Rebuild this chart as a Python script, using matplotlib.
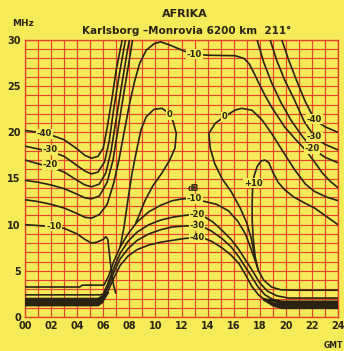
import matplotlib
matplotlib.use("Agg")
import matplotlib.pyplot as plt

BG = "#f5eb58"
RED = "#e4432c"
INK = "#2a2314"

title = "AFRIKA"
subtitle = "Karlsborg \u2013Monrovia 6200 km  211\u00b0"
xticks = list(range(0, 25, 2))
xticklabels = ["00", "02", "04", "06", "08", "10", "12", "14", "16", "18", "20", "22", "24"]
yticks = [0, 5, 10, 15, 20, 25, 30]

# ---- night curves above the MUF (left) ----
n40_h = [0, 1, 2, 3, 4, 4.6, 5.1, 5.6, 6.0, 6.3, 6.65, 7.0, 7.45]
n40_f = [20.2, 20.0, 19.7, 19.2, 18.2, 17.5, 17.2, 17.4, 18.3, 20.5, 23.5, 26.8, 30]
n30_h = [0, 1, 2, 3, 4, 4.6, 5.1, 5.6, 6.1, 6.45, 6.8, 7.2, 7.7]
n30_f = [18.5, 18.2, 17.9, 17.4, 16.4, 15.8, 15.5, 15.7, 16.8, 19.0, 22.5, 26.0, 30]
n20_h = [0, 1, 2, 3, 4, 4.6, 5.1, 5.7, 6.2, 6.6, 7.0, 7.4, 7.75, 8.0]
n20_f = [17.0, 16.6, 16.2, 15.7, 14.8, 14.3, 14.1, 14.4, 15.6, 18.0, 21.5, 25.0, 28.0, 30]
n4_h = [0, 1, 2, 3, 4, 4.6, 5.1, 5.7, 6.3, 6.75, 7.15, 7.55, 7.9, 8.25]
n4_f = [14.8, 14.6, 14.3, 13.9, 13.3, 12.9, 12.8, 13.1, 14.6, 17.0, 20.5, 24.0, 27.0, 30]
# -10 contour: night, sunrise, upper arc, evening descent
m10_h = [0, 1, 2, 3, 4, 4.6, 5.1, 5.7, 6.3, 6.8, 7.2, 7.6, 8.0, 8.4, 8.8, 9.3, 9.9, 10.4,
         11.2, 12.2, 13.0, 14.0, 16.1, 16.8, 17.2, 17.6, 17.9, 18.4, 18.9, 19.9, 20.7,
         21.5, 22.2, 22.8, 23.4, 24]
m10_f = [12.7, 12.5, 12.2, 11.8, 11.2, 10.8, 10.7, 11.1, 12.2, 14.5, 17.0, 20.0, 23.0, 25.5,
         27.5, 28.9, 29.6, 29.8, 29.4, 28.8, 28.45, 28.35, 28.3, 28.0, 27.4, 26.3, 25.4, 24.0,
         22.75, 20.6, 19.3, 18.1, 16.8, 15.6, 14.7, 14.0]
# night curve dropping into the LUF bundle
n6_h = [0, 1, 2, 3, 4, 4.6, 5.1, 5.5, 6.0, 6.2, 6.35, 6.5, 6.65, 6.8, 6.95]
n6_f = [10.0, 9.9, 9.8, 9.6, 9.0, 8.4, 8.0, 8.1, 8.4, 8.7, 8.4, 6.5, 4.6, 3.4, 2.6]

# ---- evening curves above the MUF (right) ----
r20_h = [17.8, 18.3, 18.9, 19.6, 20.4, 21.3, 22.0, 23.0, 24]
r20_f = [30, 27.6, 25.4, 23.3, 21.3, 19.5, 18.3, 17.3, 16.7]
r30_h = [18.8, 19.3, 19.9, 20.6, 21.4, 22.2, 23.0, 24]
r30_f = [30, 27.8, 25.7, 23.7, 21.2, 19.5, 18.7, 18.1]
r40_h = [19.7, 20.2, 20.8, 21.5, 22.2, 23.0, 24]
r40_f = [30, 27.9, 25.7, 23.3, 21.4, 20.6, 20.0]

# ---- 0 dB loops ----
z0l_h = [7.3, 7.6, 7.9, 8.2, 8.55, 8.9, 9.3, 9.9, 10.5, 11.0, 11.35, 11.6, 11.5, 11.1,
         10.5, 9.8, 9.2, 8.8, 8.5]
z0l_f = [7.6, 9.8, 12.8, 15.5, 18.0, 20.3, 21.7, 22.5, 22.6, 22.1, 21.2, 19.9, 18.3, 17.0,
         15.6, 14.2, 12.6, 11.2, 10.2]
z0r_h = [17.65, 17.55, 17.35, 17.0, 16.5, 15.8, 15.1, 14.55, 14.2, 14.1, 14.6, 15.3, 16.1,
         16.6, 17.4, 18.2, 18.9, 19.7, 20.7, 21.5, 22.2, 23.1, 24]
z0r_f = [6.3, 7.0, 8.5, 10.2, 11.8, 13.6, 15.0, 16.6, 18.3, 19.9, 21.0, 21.7, 22.4, 22.6,
         22.4, 21.3, 19.9, 18.1, 15.9, 14.4, 13.6, 13.0, 12.6]
# ---- +10 dB curve (right) ----
p10_h = [17.9, 17.65, 17.5, 17.42, 17.42, 17.45, 17.55, 17.8, 18.1, 18.4, 18.7, 19.0, 19.4,
         19.9, 20.6, 21.5, 22.2, 22.8, 23.4, 24]
p10_f = [5.0, 6.5, 8.5, 10.5, 12.5, 13.8, 15.2, 16.3, 16.9, 17.0, 16.7, 15.7, 14.6, 13.8,
         13.0, 12.3, 11.8, 11.2, 10.6, 10.0]

# ---- daytime curves below the MUF (absorption, LUF bundle) ----
d10_h = [0, 4.2, 4.4, 6.05, 6.4, 6.8, 7.3, 7.9, 8.6, 9.5, 10.4, 11.3, 12.1, 13.0, 13.8,
         14.7, 15.6, 16.3, 16.9, 17.3, 17.6, 17.9, 18.3, 18.9, 19.6, 20.5, 24]
d10_f = [3.25, 3.25, 3.45, 3.45, 4.4, 6.0, 7.6, 9.0, 10.3, 11.4, 12.1, 12.6, 12.8, 12.8, 12.5,
         12.2, 11.5, 10.4, 9.0, 7.5, 6.3, 5.0, 4.0, 3.25, 2.95, 2.9, 2.9]
d20_h = [0, 5.8, 6.0, 6.35, 6.8, 7.3, 7.9, 8.6, 9.5, 10.4, 11.3, 12.2, 13.0, 13.7, 14.4,
         15.1, 15.8, 16.4, 16.9, 17.4, 18.0, 18.6, 19.3, 20.2, 24]
d20_f = [2.4, 2.4, 2.5, 3.6, 5.3, 6.9, 8.2, 9.2, 10.0, 10.5, 10.8, 11.0, 11.1, 10.9, 10.3,
         9.4, 8.4, 7.3, 6.2, 5.1, 3.7, 2.8, 2.3, 2.05, 2.05]
d30_h = [0, 5.7, 5.95, 6.35, 6.8, 7.3, 7.9, 8.6, 9.5, 10.4, 11.3, 12.2, 13.0, 13.6, 14.3,
         15.1, 15.8, 16.4, 16.9, 17.4, 17.9, 18.4, 19.0, 19.7, 24]
d30_f = [2.0, 2.0, 2.1, 3.2, 4.8, 6.3, 7.4, 8.3, 9.0, 9.45, 9.75, 9.85, 9.9, 9.8, 9.3,
         8.5, 7.6, 6.5, 5.4, 4.3, 3.2, 2.4, 1.9, 1.7, 1.7]
d40_h = [0, 5.6, 5.9, 6.3, 6.8, 7.3, 7.9, 8.6, 9.5, 10.4, 11.3, 12.2, 13.0, 13.6, 14.3,
         15.1, 15.8, 16.4, 16.9, 17.4, 17.9, 18.4, 19.0, 19.7, 24]
d40_f = [1.6, 1.6, 1.7, 2.6, 4.2, 5.6, 6.6, 7.3, 7.8, 8.1, 8.3, 8.5, 8.6, 8.6, 8.2,
         7.5, 6.7, 5.8, 4.6, 3.3, 2.4, 1.85, 1.5, 1.35, 1.35]
# extra lines forming the thick night-time bundle
bl_levels = [1.3, 1.45, 1.75, 1.9]
br_levels = [1.0, 1.15, 1.5]

fig = plt.figure(figsize=(3.44, 3.51), dpi=100, facecolor=BG)
ax = fig.add_axes([25 / 344, 1 - 317 / 351, 313 / 344, 277 / 351])
ax.set_facecolor(BG)
ax.set_xlim(0, 24)
ax.set_ylim(0, 30)
ax.set_xticks(xticks)
ax.set_xticklabels(xticklabels)
ax.set_xticks(range(25), minor=True)
ax.set_yticks(yticks)
ax.set_yticks(range(31), minor=True)
ax.grid(which="both", color=RED, lw=0.85, zorder=1)
ax.tick_params(which="both", length=0, labelsize=7, colors=INK, pad=3)
for lab in ax.get_xticklabels() + ax.get_yticklabels():
    lab.set_fontweight("bold")
for s in ax.spines.values():
    s.set_color(RED)
    s.set_linewidth(1.0)

kw = dict(color=INK, lw=1.2, zorder=3, solid_capstyle="round", solid_joinstyle="round")
for h, f in [(n40_h, n40_f), (n30_h, n30_f), (n20_h, n20_f), (n4_h, n4_f), (m10_h, m10_f),
             (n6_h, n6_f), (r20_h, r20_f), (r30_h, r30_f), (r40_h, r40_f),
             (z0l_h, z0l_f), (z0r_h, z0r_f), (p10_h, p10_f),
             (d10_h, d10_f), (d20_h, d20_f), (d30_h, d30_f), (d40_h, d40_f)]:
    ax.plot(h, f, **kw)

for lv in bl_levels:
    ax.plot([0, 5.6, 5.9, 6.3], [lv, lv, lv + 0.3, 2.6], color=INK, lw=2.0, zorder=3)
for lv in br_levels:
    ax.plot([24, 19.7, 19.0, 18.4], [lv, lv, lv + 0.3, 1.85], color=INK, lw=2.0, zorder=3)

lab_kw = dict(fontsize=6, fontweight="bold", color=INK, ha="center", va="center", zorder=5,
              bbox=dict(facecolor=BG, edgecolor="none", pad=0.4))
for x, y, s in [(1.5, 19.85, "-40"), (1.9, 18.1, "-30"), (1.9, 16.5, "-20"), (2.2, 9.85, "-10"),
                (13.0, 28.45, "-10"), (11.05, 21.9, "0"), (15.3, 21.7, "0"), (17.5, 14.5, "+10"),
                (22.2, 21.4, "-40"), (22.2, 19.5, "-30"), (22.0, 18.25, "-20"),
                (13.0, 12.8, "-10"), (13.2, 11.1, "-20"), (13.2, 9.9, "-30"), (13.2, 8.6, "-40")]:
    ax.text(x, y, s, **lab_kw)
ax.text(12.9, 13.9, "dB", fontsize=5.5, fontweight="bold", color=INK, ha="center", va="center", zorder=5)

fig.text(185 / 344, 1 - 14 / 351, title, fontsize=8, fontweight="bold", color=INK, ha="center", va="center")
fig.text(187 / 344, 1 - 31 / 351, subtitle, fontsize=7.5, fontweight="bold", color=INK, ha="center", va="center")
fig.text(23 / 344, 1 - 24 / 351, "MHz", fontsize=6.5, fontweight="bold", color=INK, ha="center", va="center")
fig.text(333 / 344, 1 - 345 / 351, "GMT", fontsize=5.5, fontweight="bold", color=INK, ha="center", va="center")

fig.savefig("out.png", dpi=100, facecolor=BG)
